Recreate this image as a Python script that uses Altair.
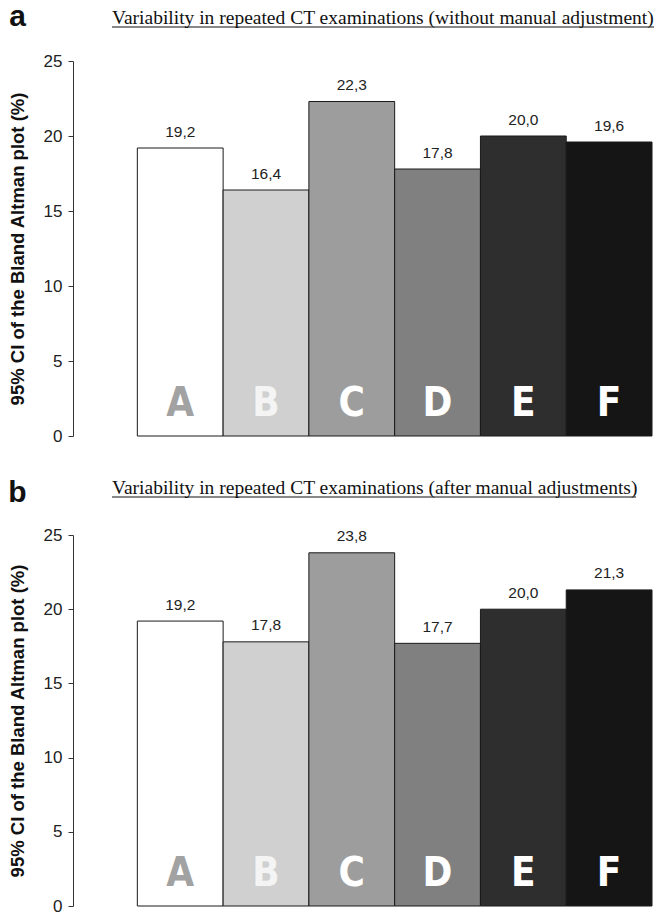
import altair as alt
import pandas as pd

categories = ["A", "B", "C", "D", "E", "F"]
values_without = [19.2, 16.4, 22.3, 17.8, 20.0, 19.6]
values_after = [19.2, 17.8, 23.8, 17.7, 20.0, 21.3]
title_a = "Variability in repeated CT examinations (without manual adjustment)"
title_b = "Variability in repeated CT examinations (after manual adjustments)"
y_title = "95% CI of the Bland Altman plot (%)"
y_ticks = [0, 5, 10, 15, 20, 25]

bar_fills = ["#ffffff", "#cfd0cf", "#9c9d9c", "#808080", "#2e2e2e", "#151515"]
letter_fills = ["#a2a2a2", "#f4f4f4", "#ffffff", "#ffffff", "#ffffff", "#ffffff"]

PLOT_W = 579


def panel(values, letter, title, height, tag_y, title_y, title_w):
    df = pd.DataFrame({"cat": categories, "value": values})
    df["idx"] = list(range(len(df)))
    df["idx2"] = df["idx"] + 1
    df["mid"] = df["idx"] + 0.5
    df["label"] = [f"{v:.1f}".replace(".", ",") for v in values]
    base = alt.Chart(df)
    xs = alt.Scale(domain=[-0.75, 6], nice=False, zero=False)
    ys = alt.Scale(domain=[0, 25], nice=False)
    y_axis = alt.Axis(
        values=y_ticks, title=y_title, grid=False, tickSize=5,
        labelFont="Liberation Sans", labelFontSize=17, labelColor="#222222",
        labelPadding=6, titleFont="Liberation Sans", titleFontSize=18.5,
        titleFontWeight="bold", titleColor="#111111", titlePadding=16,
        domainColor="#333333", tickColor="#333333",
    )
    bars = base.mark_bar(stroke="#1a1a1a", strokeWidth=1).encode(
        x=alt.X("idx:Q", scale=xs, axis=None),
        x2="idx2:Q",
        y=alt.Y("value:Q", scale=ys, axis=y_axis),
        y2=alt.datum(0),
        fill=alt.Fill("cat:N", scale=alt.Scale(domain=categories, range=bar_fills), legend=None),
    )
    vals = base.mark_text(baseline="alphabetic", dy=-11.5, fontSize=15.5,
                          font="Liberation Sans", color="#222222").encode(
        x=alt.X("mid:Q", scale=xs), y=alt.Y("value:Q", scale=ys), text="label:N")
    letters = base.mark_text(baseline="alphabetic", dy=-20.5, fontSize=40, fontWeight="bold",
                             font="DejaVu Sans Condensed").encode(
        x=alt.X("mid:Q", scale=xs), y=alt.datum(0), text="cat:N",
        color=alt.Color("cat:N", scale=alt.Scale(domain=categories, range=letter_fills), legend=None))
    one = alt.Chart(pd.DataFrame({"t": [letter], "title": [title]}))
    tag = one.mark_text(align="center", baseline="alphabetic", fontSize=30, fontWeight="bold",
                        font="Liberation Sans", color="#111111").encode(
        text="t:N", x=alt.value(-55.5), y=alt.value(tag_y))
    ttl = one.mark_text(align="left", baseline="alphabetic", fontSize=19.5,
                        font="Liberation Serif", color="#111111").encode(
        text="title:N", x=alt.value(39), y=alt.value(title_y))
    ul = one.mark_rule(color="#111111", strokeWidth=1).encode(
        x=alt.value(39), x2=alt.value(39 + title_w), y=alt.value(title_y + 3))
    return alt.layer(bars, vals, letters, tag, ttl, ul).properties(width=PLOT_W, height=height)


pa = panel(values_without, "a", title_a, 375, -35, -37, 542)
pb = panel(values_after, "b", title_b, 371, -33, -41, 524)

chart = alt.vconcat(pa, pb, spacing=34).resolve_scale(fill="independent", color="independent").properties(
    padding={"left": 8, "top": 2, "right": 0, "bottom": 0}
).configure_view(stroke=None)

chart.save("out.html", embed_options={"renderer": "svg", "actions": False})
